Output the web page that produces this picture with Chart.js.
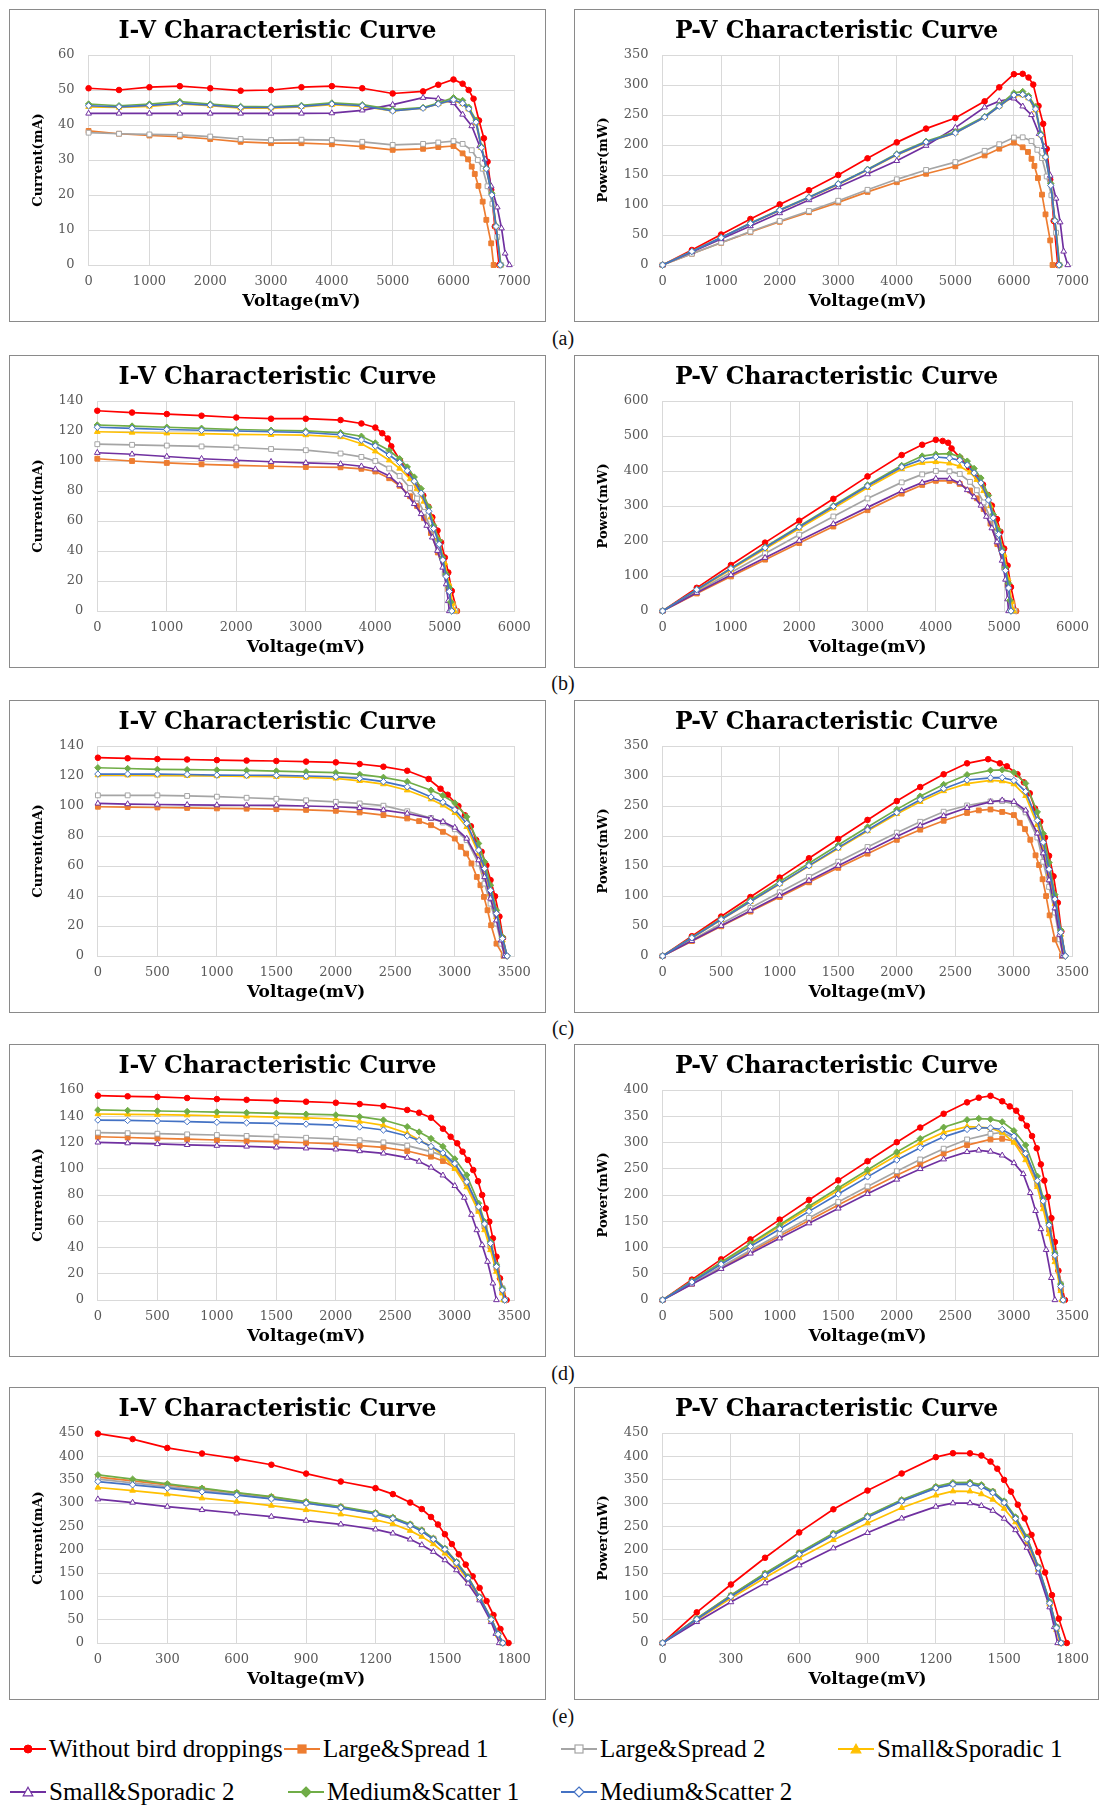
<!DOCTYPE html>
<html><head><meta charset="utf-8">
<script src="https://cdn.jsdelivr.net/npm/chart.js@4.4.1/dist/chart.umd.min.js"></script>
<style>
html,body{margin:0;padding:0;background:#fff;}
body{width:1100px;height:1809px;position:relative;overflow:hidden;}
.box{position:absolute;border:1px solid #8a8a8a;box-sizing:border-box;height:313px;background:#fff;}
.cw{position:relative;width:100%;height:100%;}
.lab{position:absolute;width:40px;text-align:center;font:20px "Liberation Serif",serif;line-height:20px;color:#111;}
.lg{position:absolute;height:26px;white-space:nowrap;font:25px "Liberation Serif",serif;line-height:26px;color:#000;}
.lg svg{display:inline-block;vertical-align:top;margin-top:5px;margin-right:3px;}
</style></head>
<body>
<script>
// ---------------- series ----------------
const SERIES_NAMES = ['Without bird droppings','Large&Spread 1','Large&Spread 2','Small&Sporadic 1','Small&Sporadic 2','Medium&Scatter 1','Medium&Scatter 2'];

// ---------------- panel (a) ----------------
const voltGridA = [0,500,1000,1500,2000,2500,3000,3500,4000,4500,5000,5500];
const voltTailA = [
 [5750,6000,6150,6250,6330,6420,6500,6560,6620,6680,6750],
 [5750,6000,6150,6240,6300,6350,6410,6480,6540,6620,6660],
 [5750,6000,6150,6300,6400,6480,6560,6640,6720,6780],
 [5750,6000,6150,6250,6370,6460,6540,6630,6700,6770],
 [5750,6000,6150,6300,6430,6520,6620,6720,6790,6850,6920],
 [5750,6000,6150,6250,6370,6460,6540,6630,6700,6780],
 [5750,6000,6150,6250,6370,6460,6540,6630,6700,6770]
];
const currentA = [
 [50.5,50.0,50.8,51.1,50.5,49.8,50.0,50.8,51.1,50.5,49.0,49.6,51.5,53.0,51.8,50.0,47.5,41.3,36.2,29.5,21.5,11.0,0],
 [38.3,37.5,37.0,36.7,36.0,35.2,34.8,34.8,34.5,33.8,32.9,33.2,33.7,34.0,31.9,30.2,28.1,26.0,22.6,18.1,12.9,6.2,0],
 [37.8,37.5,37.3,37.2,36.7,36.0,35.7,35.8,35.7,35.2,34.3,34.6,35.0,35.4,34.6,32.8,30.0,27.5,22.5,17.5,8.0,0],
 [45.2,45.0,45.3,46.0,45.5,44.8,44.8,45.2,45.8,45.3,44.0,44.8,46.0,47.0,46.0,44.5,40.5,33.5,27.5,20.3,11.0,0],
 [43.3,43.3,43.3,43.3,43.3,43.3,43.3,43.3,43.4,44.2,45.8,47.8,47.5,46.3,43.0,39.7,34.0,30.2,22.5,16.5,10.5,3.3,0],
 [46.0,45.5,46.0,46.7,46.0,45.3,45.2,45.6,46.3,45.8,44.4,45.0,46.3,47.8,47.0,45.1,41.4,33.9,27.7,20.5,11.2,0],
 [45.5,45.2,45.6,46.2,45.7,45.0,45.0,45.3,46.0,45.5,44.0,44.8,46.0,47.2,46.2,44.6,40.8,33.5,27.5,20.0,11.0,0]
];
const powerA = [
 [0,25.0,50.8,76.7,101.0,124.5,150.0,177.8,204.4,227.3,245.0,272.8,296.1,318.0,318.6,312.5,300.7,265.1,235.3,193.5,142.3,73.5,0],
 [0,18.8,37.0,55.1,72.0,88.0,104.4,121.8,138.0,152.1,164.5,182.6,193.8,204.0,196.2,188.4,177.0,165.1,144.9,117.3,84.4,41.0,0],
 [0,18.8,37.3,55.8,73.4,90.0,107.1,125.3,142.8,158.4,171.5,190.3,201.3,212.4,212.8,206.6,192.0,178.2,147.6,116.2,53.8,0],
 [0,22.5,45.3,69.0,91.0,112.0,134.4,158.2,183.2,203.9,220.0,246.4,264.5,282.0,282.9,278.1,258.0,216.4,179.9,134.6,73.7,0],
 [0,21.7,43.3,65.0,86.6,108.3,129.9,151.6,173.6,198.9,229.0,262.9,273.1,277.8,264.5,250.1,218.6,196.9,149.0,110.9,71.3,22.6,0],
 [0,22.8,46.0,70.1,92.0,113.3,135.6,159.6,185.2,206.1,222.0,247.5,266.2,286.8,289.1,281.9,263.7,219.0,181.2,135.9,75.0,0],
 [0,22.6,45.6,69.3,91.4,112.5,135.0,158.6,184.0,204.8,220.0,246.4,264.5,283.2,284.1,278.8,259.9,216.4,179.9,132.6,73.7,0]
];

// ---------------- panel (b) ----------------
const voltGridB = [0,500,1000,1500,2000,2500,3000,3500];
const voltTailB = [
 [3800,4000,4100,4180,4230,4355,4485,4610,4690,4765,4820,4895,4945,5000,5050,5100,5175],
 [3800,4000,4200,4350,4500,4600,4700,4800,4900,5000,5050,5120,5170],
 [3800,4000,4200,4350,4500,4600,4700,4800,4900,5000,5060,5120,5150],
 [3800,4000,4200,4350,4500,4600,4700,4800,4900,5000,5060,5110,5140],
 [3800,4000,4200,4350,4460,4560,4660,4740,4820,4895,4970,5020,5050,5065],
 [3800,4000,4200,4350,4460,4560,4660,4770,4840,4920,4970,5020,5065,5085,5100],
 [3800,4000,4200,4350,4460,4560,4660,4770,4840,4920,4970,5020,5065,5100]
];
const currentB = [
 [133.5,132.3,131.3,130.2,129.0,128.2,128.2,127.3,125.0,122.3,118.5,115.0,109.8,100.5,91.5,82.6,77.0,69.5,62.5,53.6,45.8,35.7,25.7,13.4,0],
 [101.5,100.0,98.7,97.8,97.1,96.5,96.0,95.8,94.8,93.0,88.5,83.5,76.5,70.0,62.0,52.0,39.0,25.0,14.5,4.5,0],
 [111.2,110.8,110.3,109.7,109.0,108.0,107.2,105.0,102.7,100.0,95.0,90.0,82.0,75.0,66.0,55.0,41.0,25.0,13.0,3.0,0],
 [119.5,119.0,118.5,118.2,117.8,117.5,117.3,116.0,111.5,106.5,100.5,95.0,88.0,81.5,73.0,62.5,48.5,32.0,18.0,5.0,0],
 [105.5,104.5,103.0,101.5,100.5,99.5,98.7,98.0,96.5,94.5,90.0,84.0,77.5,71.4,64.7,56.9,49.1,40.2,29.0,17.9,6.7,0],
 [124.0,123.3,122.5,121.8,121.0,120.5,120.1,118.8,116.5,112.0,107.0,101.5,96.0,89.3,81.5,69.2,57.0,46.9,35.7,24.6,15.6,6.0,0],
 [122.5,121.8,121.0,120.5,120.0,119.5,119.0,117.5,114.0,110.0,104.0,99.0,93.5,86.5,78.5,66.5,55.0,44.5,34.0,23.0,13.0,0]
];
const powerB = [
 [0,66.2,131.3,195.3,258.0,320.5,384.6,445.6,475.0,489.2,485.9,480.7,464.5,437.7,410.4,380.8,361.1,331.2,301.3,262.4,226.5,178.5,129.8,68.3,0],
 [0,50.0,98.7,146.7,194.2,241.3,288.0,335.3,360.2,372.0,371.7,363.2,344.3,322.0,291.4,249.6,191.1,125.0,73.2,23.0,0],
 [0,55.4,110.3,164.6,218.0,270.0,321.6,367.5,390.3,400.0,399.0,391.5,369.0,345.0,310.2,264.0,200.9,125.0,65.8,15.4,0],
 [0,59.5,118.5,177.3,235.6,293.8,351.9,406.0,423.7,426.0,422.1,413.3,396.0,374.9,343.1,300.0,237.7,160.0,91.1,25.6,0],
 [0,52.3,103.0,152.3,201.0,248.8,296.1,343.0,366.7,378.0,378.0,365.4,345.7,325.6,301.5,269.7,236.7,196.8,144.1,89.9,33.8,0],
 [0,61.7,122.5,182.7,242.0,301.3,360.3,415.8,442.7,448.0,449.4,441.5,428.2,407.2,379.8,330.1,275.9,230.7,177.4,123.5,79.0,30.5,0],
 [0,60.9,121.0,180.8,240.0,298.8,357.0,411.3,433.2,440.0,436.8,430.7,417.0,394.4,365.8,317.2,266.2,218.9,169.0,115.5,65.8,0]
];

// ---------------- panel (c) ----------------
const voltGridC = [0,250,500,750,1000,1250,1500,1750,2000];
const voltTailC = [
 [2200,2400,2600,2780,2880,2940,3030,3085,3135,3180,3225,3265,3300,3338,3375,3405,3435],
 [2200,2400,2600,2700,2800,2900,3000,3050,3095,3140,3185,3215,3245,3275,3305,3350,3410],
 [2200,2400,2600,2800,2900,3000,3100,3200,3250,3300,3350,3390,3420],
 [2200,2400,2600,2800,2900,3000,3100,3200,3250,3300,3350,3400,3430],
 [2200,2400,2600,2800,2900,3000,3100,3200,3250,3300,3350,3390,3420],
 [2200,2400,2600,2800,2900,3000,3100,3200,3250,3300,3350,3400,3440],
 [2200,2400,2600,2800,2900,3000,3100,3200,3250,3300,3350,3400,3440]
];
const currentC = [
 [132.2,131.8,131.3,131.0,130.6,130.3,130.0,129.6,129.1,128.0,126.2,123.5,118.0,111.5,107.5,100.0,93.8,86.5,77.3,69.5,60.5,50.6,39.8,26.3,12.0,0],
 [99.5,99.3,99.0,98.7,98.4,98.2,97.9,97.4,96.8,95.7,93.9,91.7,89.9,87.2,82.8,78.3,72.8,68.3,61.7,52.7,47.2,39.4,30.5,20.5,8.2,0],
 [107.1,107.1,107.1,106.7,106.2,105.5,104.8,103.8,102.8,101.7,100.2,96.5,92.0,89.0,84.5,77.2,61.7,48.3,34.9,21.6,8.2,0],
 [120.6,120.5,120.4,120.2,120.0,119.8,119.5,119.0,118.4,116.8,114.6,110.5,104.5,100.5,95.5,86.1,68.3,56.1,41.6,26.0,10.5,0],
 [101.7,101.3,101.0,100.8,100.6,100.5,100.4,100.0,99.5,98.8,97.3,95.0,91.7,89.5,85.7,78.3,63.9,52.7,38.3,23.8,10.5,0],
 [125.5,125.0,124.4,124.2,124.0,123.7,123.3,122.8,122.2,121.1,119.1,116.2,110.5,107.0,102.0,92.8,75.0,62.8,47.2,30.5,12.7,0],
 [121.3,121.3,121.3,121.0,120.6,120.5,120.4,120.0,119.5,118.4,116.2,112.8,106.0,102.5,97.5,88.4,70.6,58.3,43.8,28.3,11.6,0]
];
const powerC = [
 [0,33.0,65.7,98.3,130.6,162.9,195.0,226.8,258.2,281.6,302.9,321.1,328.0,321.1,316.1,303.0,289.4,271.2,245.8,224.1,197.5,167.0,132.9,88.8,40.9,0],
 [0,24.8,49.5,74.0,98.4,122.8,146.9,170.5,193.6,210.5,225.4,238.4,242.7,244.2,240.1,234.9,222.0,211.4,193.7,167.8,151.7,127.9,99.9,67.8,27.5,0],
 [0,26.8,53.6,80.0,106.2,131.9,157.2,181.7,205.6,223.7,240.5,250.9,257.6,258.1,253.5,239.3,197.4,157.0,115.2,72.4,27.8,0],
 [0,30.1,60.2,90.2,120.0,149.8,179.3,208.3,236.8,257.0,275.0,287.3,292.6,291.5,286.5,266.9,218.6,182.3,137.3,87.1,35.7,0],
 [0,25.3,50.5,75.6,100.6,125.6,150.6,175.0,199.0,217.4,233.5,247.0,256.8,259.6,257.1,242.7,204.5,171.3,126.4,79.7,35.6,0],
 [0,31.3,62.2,93.2,124.0,154.6,185.0,214.9,244.4,266.4,285.8,302.1,309.4,310.3,306.0,287.7,240.0,204.1,155.8,102.2,43.2,0],
 [0,30.3,60.7,90.8,120.6,150.6,180.6,210.0,239.0,260.5,278.9,293.3,296.8,297.3,292.5,274.0,225.9,189.5,144.5,94.8,39.4,0]
];

// ---------------- panel (d) ----------------
const voltGridD = [0,250,500,750,1000,1250,1500,1750,2000];
const voltTailD = [
 [2200,2400,2600,2700,2800,2900,2965,3020,3065,3110,3155,3195,3230,3260,3290,3320,3350,3380,3435],
 [2200,2400,2600,2800,2900,3000,3100,3200,3250,3300,3350,3400,3420],
 [2200,2400,2600,2800,2900,3000,3100,3200,3250,3300,3350,3400,3420],
 [2200,2400,2600,2700,2800,2900,3000,3100,3200,3250,3300,3350,3400,3410],
 [2200,2400,2600,2700,2800,2900,3000,3080,3140,3185,3230,3275,3320,3350],
 [2200,2400,2600,2700,2800,2900,3000,3100,3200,3250,3300,3350,3400,3420],
 [2200,2400,2600,2700,2800,2900,3000,3100,3200,3250,3300,3350,3400,3420]
];
const currentD = [
 [155.7,155.2,154.7,153.9,153.1,152.5,151.9,151.1,150.3,149.3,147.8,144.8,142.7,138.9,130.5,124.4,119.4,113.0,106.7,99.0,90.5,80.0,69.8,59.7,47.0,33.0,16.5,0],
 [124.4,123.8,123.2,122.5,121.9,121.2,120.6,119.8,118.9,117.6,116.3,113.5,109.2,105.9,100.8,88.9,68.6,55.9,40.6,24.1,6.3,0],
 [127.5,127.1,126.7,126.2,125.7,125.0,124.4,123.6,122.7,121.7,120.1,117.6,113.0,110.0,102.9,90.2,69.8,57.1,41.9,26.7,8.9,0],
 [141.7,141.5,141.2,140.8,140.4,139.9,139.4,138.7,137.9,136.0,133.0,127.0,122.0,117.0,110.0,100.0,86.0,67.3,53.3,38.1,21.6,5.1,0],
 [120.1,119.5,118.9,118.2,117.6,117.0,116.3,115.6,114.8,113.5,111.7,108.5,105.5,101.0,95.0,87.0,78.0,65.0,53.3,41.9,29.2,12.7,0],
 [144.8,144.4,144.0,143.6,143.2,142.7,142.2,141.6,141.0,139.7,137.1,132.0,128.0,123.0,117.0,107.5,95.2,73.7,59.7,44.4,26.7,8.9,0],
 [137.1,136.8,136.4,135.9,135.4,135.0,134.6,134.0,133.3,131.8,129.5,125.0,121.5,117.0,112.0,104.0,90.0,71.0,58.0,43.2,25.4,7.6,0]
];
const powerD = [
 [0,38.8,77.4,115.4,153.1,190.6,227.9,264.4,300.6,328.5,354.7,376.5,385.3,388.9,378.5,368.8,360.6,346.3,331.8,312.3,289.1,258.4,227.5,196.4,156.0,110.6,55.8,0],
 [0,31.0,61.6,91.9,121.9,151.5,180.9,209.7,237.8,258.7,279.1,295.1,305.8,307.1,302.4,275.6,219.5,181.7,134.0,80.7,21.4,0],
 [0,31.8,63.4,94.7,125.7,156.3,186.6,216.3,245.4,267.7,288.2,305.8,316.4,319.0,308.7,279.6,223.4,185.6,138.3,89.4,30.3,0],
 [0,35.4,70.6,105.6,140.4,174.9,209.1,242.7,275.8,299.2,319.2,330.2,329.4,327.6,319.0,300.0,266.6,215.4,173.2,125.7,72.4,17.3,0],
 [0,29.9,59.5,88.7,117.6,146.3,174.5,202.3,229.6,249.7,268.1,282.1,284.9,282.8,275.5,261.0,240.2,204.1,169.8,135.3,95.6,42.2,0],
 [0,36.1,72.0,107.7,143.2,178.4,213.3,247.8,282.0,307.3,329.0,343.2,345.6,344.4,339.3,322.5,295.1,235.8,194.0,146.5,89.4,30.3,0],
 [0,34.2,68.2,101.9,135.4,168.8,201.9,234.5,266.6,290.0,310.8,325.0,328.1,327.6,324.8,312.0,279.0,227.2,188.5,142.6,85.1,25.8,0]
];

// ---------------- panel (e) ----------------
const voltGridE = [0,150,300,450,600,750,900,1050,1200];
const voltTailE = [
 [1275,1350,1400,1440,1470,1500,1530,1560,1590,1620,1650,1680,1710,1740,1775],
 [1275,1350,1400,1450,1500,1550,1600,1650,1700,1730,1750],
 [1275,1350,1400,1450,1500,1550,1600,1650,1700,1730,1750],
 [1275,1350,1400,1450,1500,1550,1600,1650,1700,1730,1745],
 [1275,1350,1400,1450,1500,1550,1600,1650,1700,1720,1735],
 [1275,1350,1400,1450,1500,1550,1600,1650,1700,1730,1750],
 [1275,1350,1400,1450,1500,1550,1600,1650,1700,1730,1750]
];
const currentE = [
 [448.6,437.0,418.0,406.0,395.0,382.0,363.0,346.0,331.8,319.0,301.0,287.0,270.0,254.0,233.0,212.0,190.0,168.0,143.0,118.0,90.0,60.0,30.0,0],
 [355.4,347.5,339.0,330.3,321.0,312.4,301.7,291.0,278.0,268.0,253.7,240.8,223.6,201.3,172.7,140.4,98.2,50.9,19.3,0],
 [351.0,343.0,335.0,327.0,318.5,310.0,300.0,290.0,277.0,267.0,253.0,240.0,223.0,201.0,172.5,140.0,98.0,51.0,19.5,0],
 [333.2,326.7,318.9,310.3,303.1,294.5,285.2,275.9,263.7,255.1,240.8,227.9,212.1,192.0,167.0,134.7,95.3,48.7,16.5,0],
 [308.1,301.0,292.3,285.2,278.0,270.9,262.3,254.4,243.6,235.0,222.1,210.0,195.6,177.7,156.2,127.6,91.7,45.1,20.0,0],
 [360.4,351.0,341.0,331.8,322.4,313.8,303.1,292.3,279.4,269.4,255.0,242.2,224.3,202.8,174.1,141.9,98.9,52.3,20.0,0],
 [346.0,339.0,331.8,324.0,316.7,308.8,299.5,289.5,276.6,266.6,252.2,239.3,222.1,200.6,172.0,139.0,97.4,50.2,18.6,0]
];
const powerE = [
 [0,65.6,125.4,182.7,237.0,286.5,326.7,363.3,398.2,406.7,406.4,401.8,388.8,373.4,349.5,324.4,296.4,267.1,231.7,194.7,151.2,102.6,52.2,0],
 [0,52.1,101.7,148.6,192.6,234.3,271.5,305.6,333.6,341.7,342.5,337.1,324.2,302.0,267.7,224.6,162.0,86.5,33.4,0],
 [0,51.5,100.5,147.2,191.1,232.5,270.0,304.5,332.4,340.4,341.6,336.0,323.4,301.5,267.4,224.0,161.7,86.7,33.7,0],
 [0,49.0,95.7,139.6,181.9,220.9,256.7,289.7,316.4,325.3,325.1,319.1,307.5,288.0,258.9,215.5,157.2,82.8,28.5,0],
 [0,45.2,87.7,128.3,166.8,203.2,236.1,267.1,292.3,299.6,299.8,294.0,283.6,266.6,242.1,204.2,151.3,76.7,34.4,0],
 [0,52.7,102.3,149.3,193.4,235.4,272.8,306.9,335.3,343.5,344.3,339.1,325.2,304.2,269.9,227.0,163.2,88.9,34.6,0],
 [0,50.9,99.5,145.8,190.0,231.6,269.6,304.0,331.9,339.9,340.5,335.0,322.0,300.9,266.6,222.4,160.7,85.3,32.2,0]
];

// ---------------- tick labels ----------------
const xTicksA = [0,1000,2000,3000,4000,5000,6000,7000];
const xTicksB = [0,1000,2000,3000,4000,5000,6000];
const xTicksC = [0,500,1000,1500,2000,2500,3000,3500];
const xTicksD = [0,500,1000,1500,2000,2500,3000,3500];
const xTicksE = [0,300,600,900,1200,1500,1800];
const ivTicksA = [0,10,20,30,40,50,60];
const pvTicksA = [0,50,100,150,200,250,300,350];
const ivTicksB = [0,20,40,60,80,100,120,140];
const pvTicksB = [0,100,200,300,400,500,600];
const ivTicksC = [0,20,40,60,80,100,120,140];
const pvTicksC = [0,50,100,150,200,250,300,350];
const ivTicksD = [0,20,40,60,80,100,120,140,160];
const pvTicksD = [0,50,100,150,200,250,300,350,400];
const ivTicksE = [0,50,100,150,200,250,300,350,400,450];
const pvTicksE = [0,50,100,150,200,250,300,350,400,450];
const PANEL_LABELS = ['(a)','(b)','(c)','(d)','(e)'];

// ---------------- styling / layout ----------------
const LINE_COLORS = ['#FF0000','#ED7D31','#A5A5A5','#FFC000','#7030A0','#70AD47','#4472C4'];
const FILL_COLORS = ['#FF0000','#ED7D31','#FFFFFF','#FFC000','#FFFFFF','#70AD47','#FFFFFF'];
const POINT_STYLES = ['circle','rect','rect','triangle','triangle','rectRot','rectRot'];
const POINT_RADII = [2.8,3.4,3.4,3.3,3.3,3.2,3.2];

const PANELS = [
 {grid:voltGridA, tails:voltTailA, iv:currentA, pv:powerA, xt:xTicksA, ivt:ivTicksA, pvt:pvTicksA},
 {grid:voltGridB, tails:voltTailB, iv:currentB, pv:powerB, xt:xTicksB, ivt:ivTicksB, pvt:pvTicksB},
 {grid:voltGridC, tails:voltTailC, iv:currentC, pv:powerC, xt:xTicksC, ivt:ivTicksC, pvt:pvTicksC},
 {grid:voltGridD, tails:voltTailD, iv:currentD, pv:powerD, xt:xTicksD, ivt:ivTicksD, pvt:pvTicksD},
 {grid:voltGridE, tails:voltTailE, iv:currentE, pv:powerE, xt:xTicksE, ivt:ivTicksE, pvt:pvTicksE}
];
const ROW_TOPS = [9, 355, 700, 1044, 1387];
const LABEL_Y = [338, 683, 1028, 1373, 1716];
const LEFT_AXIS_W = [78.6, 87.3, 87.9, 87.9, 87.9];
const RIGHT_AXIS_W = 87.6;

const TICK_FONT = {family:'DejaVu Serif', size:13};
const GRID_COLOR = '#d9d9d9';

function makeBox(left, top, width) {
  const box = document.createElement('div');
  box.className = 'box';
  box.style.left = left + 'px';
  box.style.top = top + 'px';
  box.style.width = width + 'px';
  const cw = document.createElement('div');
  cw.className = 'cw';
  const cv = document.createElement('canvas');
  cw.appendChild(cv);
  box.appendChild(cw);
  document.body.appendChild(box);
  return cv;
}

function buildChart(canvas, panel, values, yTicks, titleText, yTitle, yWidth, rightGap) {
  const datasets = SERIES_NAMES.map((name, k) => {
    const volts = panel.grid.concat(panel.tails[k]);
    return {
      label: name,
      data: volts.map((v, j) => ({x: v, y: values[k][j]})),
      borderColor: LINE_COLORS[k],
      backgroundColor: FILL_COLORS[k],
      pointBackgroundColor: FILL_COLORS[k],
      pointBorderColor: LINE_COLORS[k],
      pointStyle: POINT_STYLES[k],
      pointRadius: POINT_RADII[k],
      pointBorderWidth: 1,
      borderWidth: 1.7,
      tension: 0,
      fill: false,
      order: 6 - k,
      clip: 6,
      yAxisID: 'y'
    };
  });
  const xt = panel.xt;
  new Chart(canvas, {
    type: 'line',
    data: {datasets},
    options: {
      responsive: true, maintainAspectRatio: false, animation: false,
      devicePixelRatio: 1, events: [],
      layout: {padding: 0},
      plugins: {
        legend: {display: false},
        tooltip: {enabled: false},
        title: {display: true, text: titleText, color: '#000',
          font: {family: 'DejaVu Serif', size: 23.5, weight: 'bold', lineHeight: 1.2},
          padding: {top: 7.4, bottom: 9.4}}
      },
      scales: {
        x: {
          type: 'linear', min: xt[0], max: xt[xt.length - 1],
          afterBuildTicks: s => { s.ticks = xt.map(v => ({value: v})); },
          afterFit: s => { s.height = 56; },
          ticks: {autoSkip: false, maxRotation: 0, padding: 9, color: '#595959', font: TICK_FONT, callback: v => String(v)},
          grid: {color: GRID_COLOR, drawTicks: false},
          border: {color: GRID_COLOR},
          title: {display: true, text: 'Voltage(mV)', color: '#000',
            font: {family: 'DejaVu Serif', size: 17, weight: 'bold', lineHeight: 1.2},
            padding: {top: 2, bottom: 8.8}}
        },
        y: {
          type: 'linear', position: 'left', min: yTicks[0], max: yTicks[yTicks.length - 1],
          afterBuildTicks: s => { s.ticks = yTicks.map(v => ({value: v})); },
          afterFit: s => { s.width = yWidth; },
          ticks: {autoSkip: false, padding: 14, color: '#595959', font: TICK_FONT, callback: v => String(v)},
          grid: {color: GRID_COLOR, drawTicks: false},
          border: {color: GRID_COLOR},
          title: {display: true, text: yTitle, color: '#000',
            font: {family: 'DejaVu Serif', size: 13, weight: 'bold', lineHeight: 1.2},
            padding: {top: 20.8, bottom: 12.3}}
        },
        gap: {
          type: 'linear', position: 'right', display: true,
          afterFit: s => { s.width = rightGap; },
          ticks: {display: false},
          grid: {display: false, drawOnChartArea: false, drawTicks: false},
          border: {display: false}
        }
      }
    }
  });
}

PANELS.forEach((p, r) => {
  const top = ROW_TOPS[r];
  const cvL = makeBox(9, top, 537);
  const cvR = makeBox(574, top, 525);
  buildChart(cvL, p, p.iv, p.ivt, 'I-V Characteristic Curve', 'Current(mA)', LEFT_AXIS_W[r], 30.7);
  buildChart(cvR, p, p.pv, p.pvt, 'P-V Characteristic Curve', 'Power(mW)', RIGHT_AXIS_W, 19.8);
  const lab = document.createElement('div');
  lab.className = 'lab';
  lab.textContent = PANEL_LABELS[r];
  lab.style.left = '543px';
  lab.style.top = (LABEL_Y[r] - 10) + 'px';
  document.body.appendChild(lab);
});

// ---------------- legend ----------------
function markerSvg(k) {
  const c = LINE_COLORS[k], f = FILL_COLORS[k];
  let m = '';
  if (POINT_STYLES[k] === 'circle') m = `<circle cx="18" cy="8" r="4" fill="${f}" stroke="${c}" stroke-width="1"/>`;
  else if (POINT_STYLES[k] === 'rect') m = `<rect x="14" y="4" width="8" height="8" fill="${f}" stroke="${c}" stroke-width="1.2"/>`;
  else if (POINT_STYLES[k] === 'triangle') m = `<polygon points="18,3.2 22.8,11.8 13.2,11.8" fill="${f}" stroke="${c}" stroke-width="1.2"/>`;
  else m = `<polygon points="18,3 23,8 18,13 13,8" fill="${f}" stroke="${c}" stroke-width="1.2"/>`;
  return `<svg width="36" height="16" viewBox="0 0 36 16"><line x1="0" y1="8" x2="36" y2="8" stroke="${c}" stroke-width="2"/>${m}</svg>`;
}
const LEGEND_POS = [[10,1736],[284,1736],[561,1736],[838,1736],[10,1779],[288,1779],[561,1779]];
SERIES_NAMES.forEach((name, k) => {
  const d = document.createElement('div');
  d.className = 'lg';
  d.style.left = LEGEND_POS[k][0] + 'px';
  d.style.top = LEGEND_POS[k][1] + 'px';
  d.innerHTML = markerSvg(k);
  const s = document.createElement('span');
  s.textContent = name;
  d.appendChild(s);
  document.body.appendChild(d);
});
</script>
</body></html>
